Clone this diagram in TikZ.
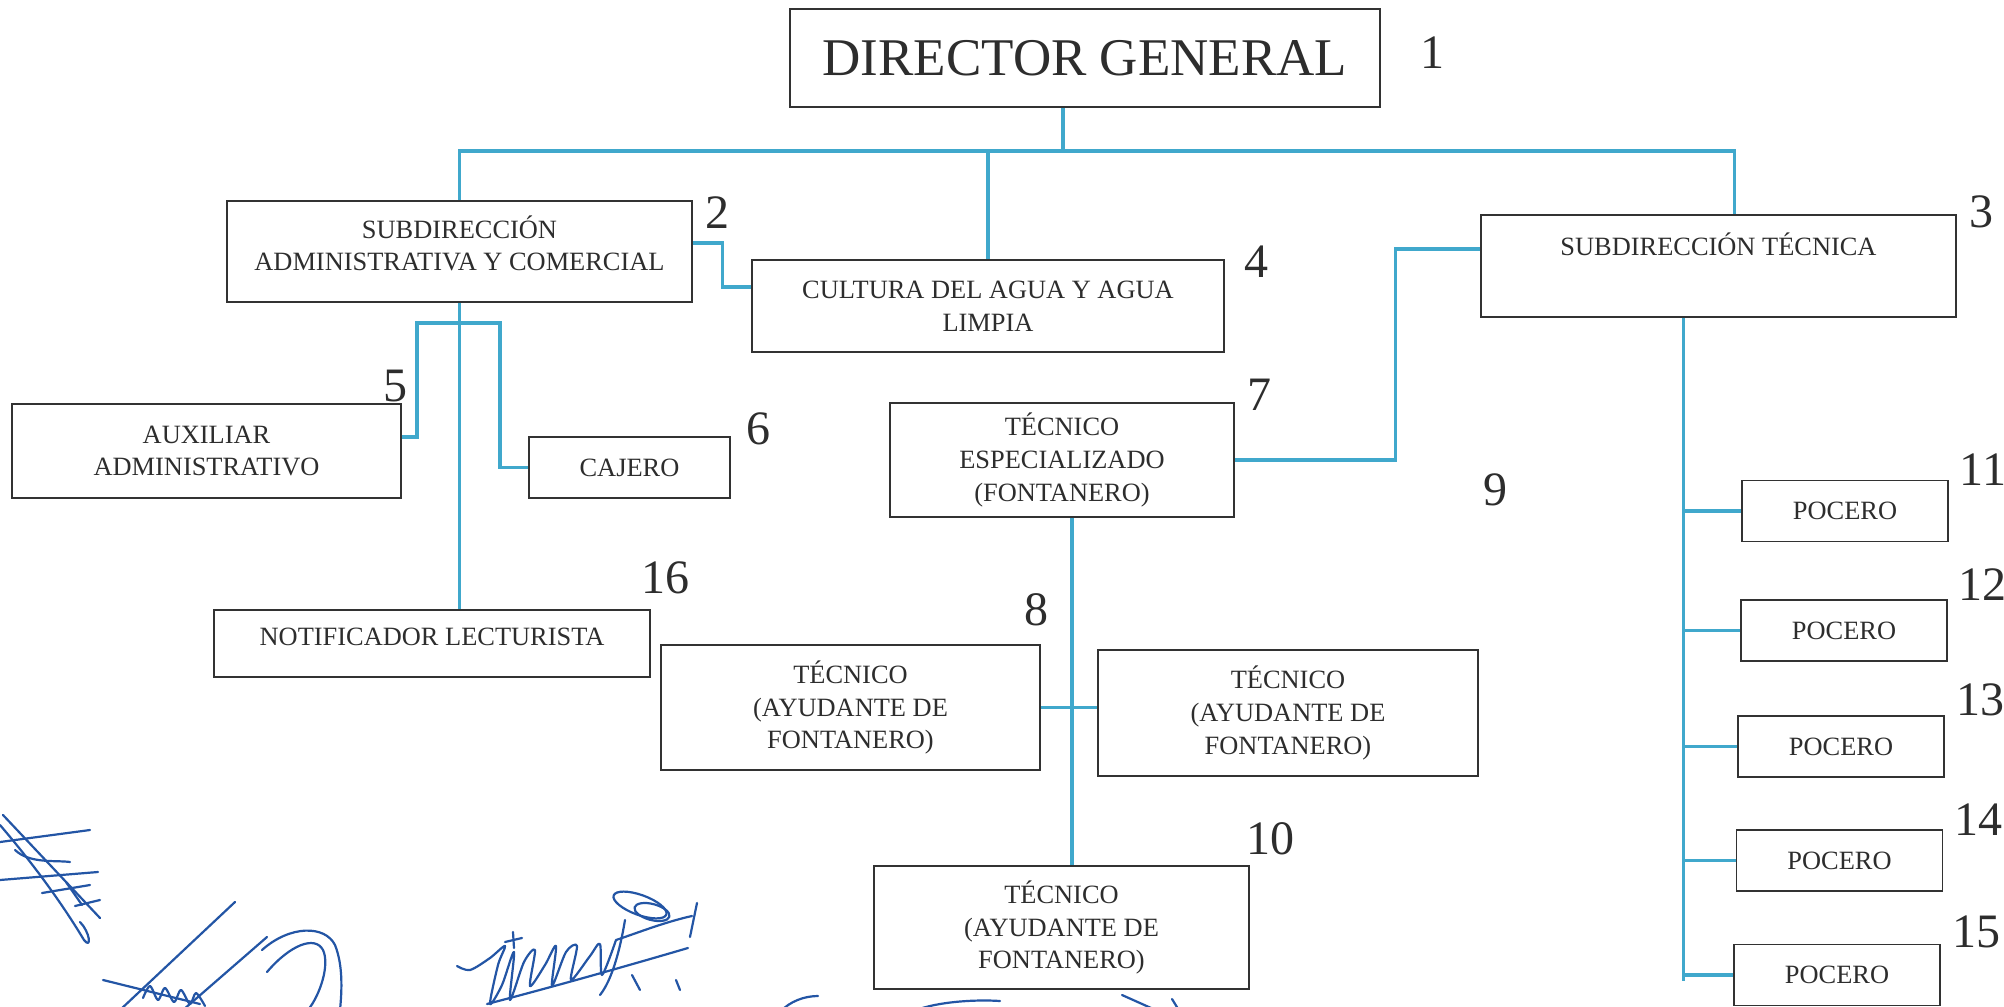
\documentclass[tikz,border=0pt]{standalone}
\usepackage{fontspec}
\setmainfont{Liberation Serif}
\definecolor{lineblue}{RGB}{64,168,204}
\definecolor{boxgray}{RGB}{50,50,50}
\definecolor{textgray}{RGB}{45,45,45}
\definecolor{sigblue}{RGB}{35,85,165}
\tikzset{
  box/.style={draw=boxgray, line width=0.8pt, inner sep=0pt, align=center, text=textgray,
    font=\fontsize{13.2}{16.3}\selectfont},
  num/.style={inner sep=0pt, text=textgray, font=\fontsize{24}{24}\selectfont},
  conn/.style={draw=lineblue, line width=1.6pt},
  sig/.style={draw=sigblue, line width=1.1pt, line cap=round, line join=round},
}
\begin{document}
\begin{tikzpicture}[x=0.5pt,y=-0.5pt]
\fill[white] (0,0) rectangle (2004,1007);
\useasboundingbox (0,0) rectangle (2004,1007);

% boxes
\node[box, minimum width=295pt, minimum height=49pt, font=\fontsize{26.5}{30}\selectfont] (dir) at (1085,58) {DIRECTOR GENERAL};
\node[box, minimum width=232.5pt, minimum height=50.5pt] (admin) at (459.5,251.5) {SUBDIRECCIÓN\\ADMINISTRATIVA Y COMERCIAL\\[-8pt]\mbox{}};
\node[box, minimum width=237.5pt, minimum height=51pt] (subtec) at (1718.5,266) {\raisebox{5.2pt}[0pt][0pt]{SUBDIRECCIÓN TÉCNICA}};
\node[box, minimum width=236pt, minimum height=46pt] (cultura) at (988,306) {CULTURA DEL AGUA Y AGUA\\LIMPIA};
\node[box, minimum width=194.5pt, minimum height=47pt] (aux) at (206.5,451) {AUXILIAR\\ADMINISTRATIVO};
\node[box, minimum width=100.5pt, minimum height=30.5pt] (cajero) at (629.5,467.5) {CAJERO};
\node[box, minimum width=172pt, minimum height=57pt] (tecesp) at (1062,460) {TÉCNICO\\ESPECIALIZADO\\(FONTANERO)};
\node[box, minimum width=218pt, minimum height=33.5pt] (notif) at (432,643.5) {\raisebox{-1pt}[0pt][0pt]{NOTIFICADOR LECTURISTA}};
\node[box, minimum width=189.5pt, minimum height=62.5pt] (ayL) at (850.5,707.5) {TÉCNICO\\(AYUDANTE DE\\FONTANERO)};
\node[box, minimum width=190pt, minimum height=63pt] (ayR) at (1288,713) {TÉCNICO\\(AYUDANTE DE\\FONTANERO)};
\node[box, minimum width=187.5pt, minimum height=61.5pt] (box10) at (1061.5,927.5) {TÉCNICO\\(AYUDANTE DE\\FONTANERO)};
\node[box, minimum width=103pt, minimum height=30.5pt] (p11) at (1845,511) {POCERO};
\node[box, minimum width=103pt, minimum height=30.5pt] (p12) at (1844,630.5) {POCERO};
\node[box, minimum width=103pt, minimum height=30.5pt] (p13) at (1841,746.5) {POCERO};
\node[box, minimum width=103pt, minimum height=30.5pt] (p14) at (1839.5,860.5) {POCERO};
\node[box, minimum width=103pt, minimum height=30.5pt] (p15) at (1837,975) {POCERO};

% numbers
\node[num] (n1) at (1432,53) {1};
\node[num] (n2) at (717,213) {2};
\node[num] (n3) at (1981,212) {3};
\node[num] (n4) at (1256,262) {4};
\node[num] (n5) at (395,386) {5};
\node[num] (n6) at (758,429) {6};
\node[num] (n7) at (1259,395) {7};
\node[num] (n8) at (1036,610) {8};
\node[num] (n9) at (1495,490) {9};
\node[num] (n10) at (1270,839) {10};
\node[num] (n11) at (1983,470) {11};
\node[num] (n12) at (1982,585) {12};
\node[num] (n13) at (1980,700) {13};
\node[num] (n14) at (1978,820) {14};
\node[num] (n15) at (1976,932) {15};
\node[num] (n16) at (665,578) {16};

% connectors
\coordinate (bus) at (1063,151);
\draw[conn] (dir.south -| bus) -- (bus);
\draw[conn] (admin.north) |- (bus) -| ([xshift=8pt]subtec.north);
\draw[conn] (bus -| cultura.north) -- (cultura.north);
\draw[conn] ([yshift=4.25pt]admin.east) -- ++(30,0) |- ([yshift=9.5pt]cultura.west);

\coordinate (forkL) at (417,323);
\coordinate (forkR) at (500,323);
\draw[conn] (admin.south) -- (admin.south |- notif.north);
\draw[conn] ([yshift=7pt]aux.east) -| (forkL) -- (forkR) |- (cajero.west);

\draw[conn] ([yshift=8.5pt]subtec.west) -- ++(-85,0) |- (tecesp.east);
\draw[conn] ([xshift=5pt]tecesp.south) -- ([xshift=5pt]tecesp.south |- box10.north);
\draw[conn] (ayL.east) -- (ayL.east -| ayR.west);

\coordinate (pv) at ([xshift=-17.5pt]subtec.south);
\draw[conn] (pv) -- ([yshift=-3pt]pv |- p15.west);
\foreach \p in {p11,p12,p13,p14,p15} \draw[conn] (pv |- \p.west) -- (\p.west);

% signatures
\begin{scope}
\clip (0,0) rectangle (2004,1007);
% A
\draw[sig] (3,815) -- (100,918);
\draw[sig] (0,825) .. controls (30,860) and (60,900) .. (84,940) .. controls (92,950) and (90,932) .. (80,922);
\draw[sig] (0,842) -- (90,830);
\draw[sig] (0,880) -- (98,872);
\draw[sig] (42,893) -- (90,885);
\draw[sig] (15,850) .. controls (30,864) and (55,860) .. (70,862);
\draw[sig] (66,882) -- (82,905);
\draw[sig] (75,906) -- (100,900);
% B
\draw[sig] (120,1010) -- (235,902);
\draw[sig] (103,980) -- (200,1004);
\draw[sig] (183,1010) -- (267,937);
\draw[sig] (262,950) .. controls (290,925) and (325,925) .. (335,945) .. controls (343,965) and (342,990) .. (340,1010);
\draw[sig] (267,972) .. controls (290,945) and (315,935) .. (323,950) .. controls (330,965) and (320,995) .. (308,1010);
\draw[sig] plot[smooth] coordinates {(143,998) (150,986) (158,1000) (165,988) (174,1002) (181,990) (190,1004) (196,993) (205,1006)};
% C
\draw[sig] plot[smooth] coordinates {(457,966) (470,970) (490,958) (505,946) (498,965) (490,1004) (502,985) (514,952) (510,1000) (524,962) (535,950) (530,986) (545,965) (556,946) (552,986) (566,952) (577,946) (571,980) (590,956) (600,944) (602,975) (616,940)};
\draw[sig] (487,1004) .. controls (560,985) and (630,965) .. (688,948);
\draw[sig] (640,905) ellipse [x radius=14pt, y radius=5pt, rotate=-20];
\draw[sig] (652,912) ellipse [x radius=9pt, y radius=4pt, rotate=-15];
\draw[sig] (616,940) .. controls (640,932) and (665,922) .. (692,916);
\draw[sig] (697,903) -- (690,937);
\draw[sig] (625,920) .. controls (620,950) and (612,980) .. (600,995);
\draw[sig] (632,975) -- (640,990);
\draw[sig] (505,942) -- (522,938);
\draw[sig] (513,932) -- (514,948);
\draw[sig] (676,980) -- (680,990);
% D
\draw[sig] (780,1012) .. controls (790,1001) and (805,996) .. (818,996);
\draw[sig] (912,1012) .. controls (930,1003) and (970,999) .. (1000,1001);
\draw[sig] (1122,995) -- (1160,1012);
\draw[sig] (1172,999) -- (1180,1012);
\end{scope}
\end{tikzpicture}
\end{document}
